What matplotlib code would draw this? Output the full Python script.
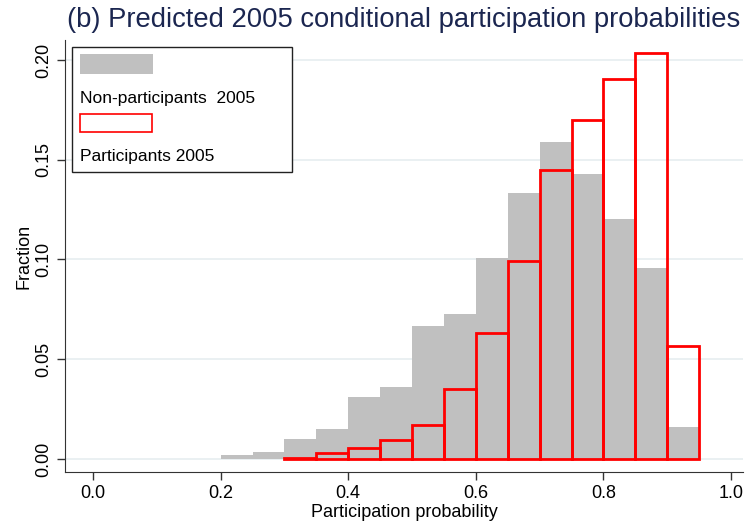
import matplotlib
matplotlib.use("Agg")
import matplotlib.pyplot as plt
from matplotlib.patches import Rectangle

plt.rcParams['font.family'] = ['Liberation Sans', 'DejaVu Sans']

bin_left = [0.20, 0.25, 0.30, 0.35, 0.40, 0.45, 0.50, 0.55, 0.60, 0.65,
            0.70, 0.75, 0.80, 0.85, 0.90]
nonpart = [0.002, 0.0035, 0.010, 0.015, 0.031, 0.036, 0.0665, 0.0725, 0.1005,
           0.1335, 0.159, 0.143, 0.1205, 0.0955, 0.016]
part = [0.0, 0.0, 0.0003, 0.003, 0.0055, 0.0097, 0.017, 0.035, 0.063, 0.099,
        0.145, 0.170, 0.1905, 0.2035, 0.0565]
bin_w = 0.05
yticks = [0.00, 0.05, 0.10, 0.15, 0.20]
xticks = [0.0, 0.2, 0.4, 0.6, 0.8, 1.0]
title = "(b) Predicted 2005 conditional participation probabilities"
labels = ["Non-participants  2005", "Participants 2005"]

fig = plt.figure(figsize=(7.5, 5.29), dpi=100)
ax = fig.add_axes([65/750, 1-472/529, 678/750, 432/529])

for y in yticks:
    ax.axhline(y, color='#e6eef0', lw=1.2, zorder=0)

ax.bar(bin_left, nonpart, width=bin_w, align='edge', color='#c0c0c0',
       edgecolor='none', zorder=1)
red_l = [l for l, v in zip(bin_left, part) if v > 0]
red_v = [v for v in part if v > 0]
ax.bar(red_l, red_v, width=bin_w, align='edge', facecolor='none',
       edgecolor='#ff0000', lw=2, zorder=2)

ax.set_xlim(-0.0439, 1.0188)
ax.set_ylim(-0.0065, 0.21)
ax.set_yticks(yticks)
ax.set_yticklabels([f"{v:.2f}" for v in yticks], rotation=90, va='center')
ax.set_xticks(xticks)
ax.set_xticklabels([f"{v:.1f}" for v in xticks])
ax.tick_params(axis='both', labelsize=13, color='#333333', length=6, width=1)
for s in ['top', 'right']:
    ax.spines[s].set_visible(False)
for s in ['left', 'bottom']:
    ax.spines[s].set_color('#333333')
ax.set_ylabel("Fraction", fontsize=13, labelpad=2)
ax.set_xlabel("Participation probability", fontsize=13, labelpad=1)

fig.text(404/750, 1-20/529, title, ha='center', va='center',
         fontsize=19.7, color='#1b2650')

# Legend (Stata style: key above label)
tr = fig.transFigure
def fx(px): return px/750
def fy(py): return 1-py/529
fig.patches.append(Rectangle((fx(72), fy(172)), fx(220), (172-47)/529, transform=tr,
                             facecolor='white', edgecolor='#222222', lw=1, zorder=5))
fig.patches.append(Rectangle((fx(80), fy(74)), fx(73), 20/529, transform=tr,
                             facecolor='#c0c0c0', edgecolor='none', zorder=6))
fig.text(fx(80), fy(98), labels[0], fontsize=12.5, va='center', ha='left', zorder=7)
fig.patches.append(Rectangle((fx(80), fy(132)), fx(72), 18/529, transform=tr,
                             facecolor='white', edgecolor='#ff0000', lw=1.2, zorder=6))
fig.text(fx(80), fy(157), labels[1], fontsize=12.5, va='center', ha='left', zorder=7)

fig.savefig("out.png", dpi=100)
